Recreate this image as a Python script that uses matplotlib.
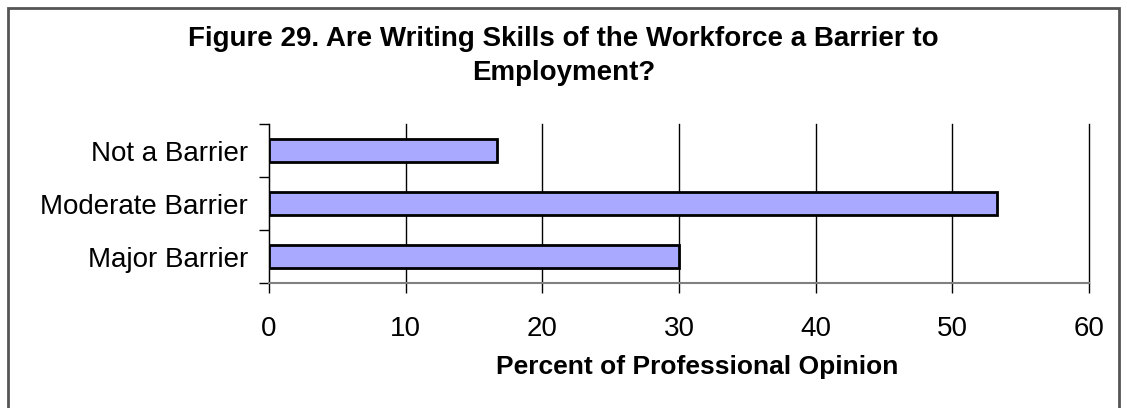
import matplotlib
matplotlib.use("Agg")
import matplotlib.pyplot as plt
from matplotlib.patches import Rectangle

# survey answers, top row first
categories = ["Not a Barrier", "Moderate Barrier", "Major Barrier"]
percent = [16.7, 53.3, 30.0]
xticks = [0, 10, 20, 30, 40, 50, 60]

plt.rcParams['font.family'] = ['Liberation Sans', 'DejaVu Sans']

fig = plt.figure(figsize=(11.27, 4.08), dpi=100)
ax = fig.add_axes([0.2387, 0.306, 0.7276, 0.39])

ypos = list(range(len(categories)))[::-1]
ax.barh(ypos, percent, height=0.44, color="#A9A9FF", edgecolor="black",
        linewidth=2, zorder=3)

ax.set_xlim(0, 60)
ax.set_ylim(-0.5, len(categories) - 0.5)
ax.set_xticks(xticks)
ax.set_xticklabels([str(t) for t in xticks], fontsize=20)
ax.tick_params(axis="x", length=7, width=1, pad=17, color="black")
ax.xaxis.grid(True, color="black", linewidth=1, zorder=0)
for gl in ax.get_xgridlines():
    gl.set_clip_on(False)

# category names at bar centres, tick marks between categories
ax.set_yticks(ypos)
ax.set_yticklabels(categories, fontsize=20)
ax.tick_params(axis="y", which="major", length=0, pad=15)
ax.set_yticks([y - 0.5 for y in range(len(categories) + 1)], minor=True)
ax.tick_params(axis="y", which="minor", length=7, width=1, color="black")

for side in ["top", "right"]:
    ax.spines[side].set_visible(False)
ax.spines["left"].set_color("black")
ax.spines["bottom"].set_color("#808080")
ax.spines["bottom"].set_linewidth(1.5)

ax.set_xlabel("Percent of Professional Opinion", fontsize=19, fontweight="bold")
ax.xaxis.set_label_coords(0.522, -0.45)

fig.text(0.5, 0.936, "Figure 29. Are Writing Skills of the Workforce a Barrier to\nEmployment?",
         ha="center", va="top", fontsize=20, fontweight="bold", linespacing=1.4)

# outer chart frame
fig.patches.append(Rectangle((8 / 1127, -0.05), 1111 / 1127, 1 - 8 / 408 + 0.05,
                             transform=fig.transFigure, fill=False,
                             edgecolor="#555555", linewidth=2))

fig.savefig("out.png", dpi=100)
